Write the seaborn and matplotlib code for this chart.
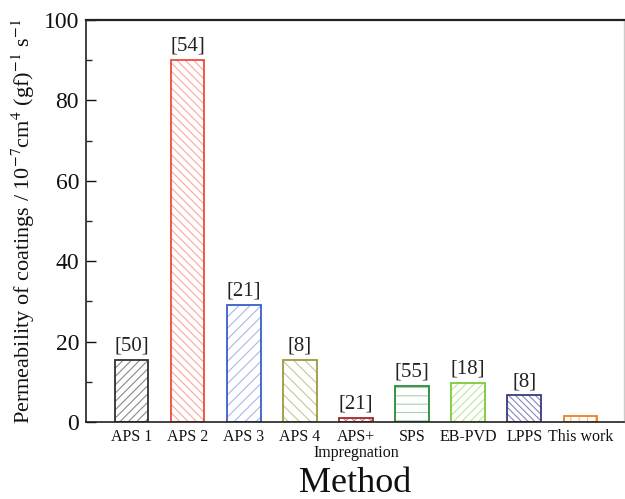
import matplotlib
matplotlib.use("Agg")
import matplotlib.pyplot as plt
import matplotlib.transforms as mtransforms
import seaborn as sns
import pandas as pd

methods = ["APS 1", "APS 2", "APS 3", "APS 4", "APS+\nImpregnation",
           "SPS", "EB-PVD", "LPPS", "This work"]
permeability = [15.4, 90.1, 29.1, 15.4, 1.1, 9.0, 9.8, 6.6, 1.6]
refs = ["[50]", "[54]", "[21]", "[8]", "[21]", "[55]", "[18]", "[8]", ""]
edge_colors = ["#303030", "#f04a3a", "#3a5fcd", "#9a9a40", "#a02828",
               "#2a8a3a", "#7acc3a", "#3a3a80", "#f08020"]
hatch_colors = ["#8a8a8a", "#f8a8a0", "#a8b8e8", "#c8c890", "#d08080",
                "#a8d0b0", "#b8e898", "#8888b8", "#f8b880"]
hatches = ["////", "\\\\\\\\", "///", "\\\\\\", "xxxx", "--", "////", "\\\\\\\\\\", "||"]

sns.set_theme(style="ticks")
plt.rcParams["font.family"] = ["Liberation Serif", "DejaVu Serif"]
plt.rcParams["mathtext.fontset"] = "stix"
plt.rcParams["hatch.linewidth"] = 0.8

df = pd.DataFrame({"Method": methods, "Permeability": permeability})

fig = plt.figure(figsize=(6.25, 4.99), dpi=100)
ax = fig.add_axes([0.1376, 0.1543, 0.8610, 0.8057])

# hatched fill
sns.barplot(data=df, x="Method", y="Permeability", ax=ax, width=0.6,
            color="white", saturation=1, errorbar=None)
for p, hc, h in zip(ax.patches, hatch_colors, hatches):
    p.set_facecolor("white")
    p.set_edgecolor(hc)
    p.set_hatch(h)
    p.set_linewidth(0)
# outlines
n0 = len(ax.patches)
sns.barplot(data=df, x="Method", y="Permeability", ax=ax, width=0.6,
            fill=False, saturation=1, errorbar=None)
for p, ec in zip(ax.patches[n0:], edge_colors):
    p.set_edgecolor(ec)
    p.set_linewidth(1.3)
    p.set_facecolor("none")

ax.bar_label(ax.containers[0], labels=refs, padding=3, fontsize=15, color="#222222")

ax.set_xlim(-0.81, 8.78)
ax.set_ylim(0, 100)
ax.set_yticks([0, 20, 40, 60, 80, 100])
ax.set_yticks([10, 30, 50, 70, 90], minor=True)
ax.tick_params(axis="y", which="major", direction="in", length=7, width=1,
               labelsize=17, pad=5, colors="#111111")
ax.tick_params(axis="y", which="minor", direction="in", length=4, width=1)
ax.tick_params(axis="x", length=0, labelsize=11.5, pad=5, colors="#111111")

# first lines as tick labels, second lines as separate texts
first_lines = [m.split("\n")[0] for m in methods]
ax.set_xticks(range(len(methods)))
ax.set_xticklabels(first_lines)
trans = mtransforms.blended_transform_factory(ax.transData, ax.transAxes)
for i, m in enumerate(methods):
    parts = m.split("\n")
    if len(parts) > 1:
        ax.text(i, -0.058, parts[1], transform=trans, ha="center", va="top",
                fontsize=11.5, color="#111111")

ax.set_xlabel("Method", fontsize=26, labelpad=16, color="#111111")
ax.set_ylabel(r"Permeability of coatings / 10$^{-7}$cm$^{4}$ (gf)$^{-1}$ s$^{-1}$",
              fontsize=16, labelpad=5, color="#111111")

for side in ["left", "bottom", "top"]:
    ax.spines[side].set_color("#222222")
    ax.spines[side].set_linewidth(1.2)
ax.spines["top"].set_linewidth(1.6)
ax.spines["right"].set_color("#cccccc")
ax.spines["right"].set_linewidth(1.0)

fig.savefig("out.png", dpi=100)
